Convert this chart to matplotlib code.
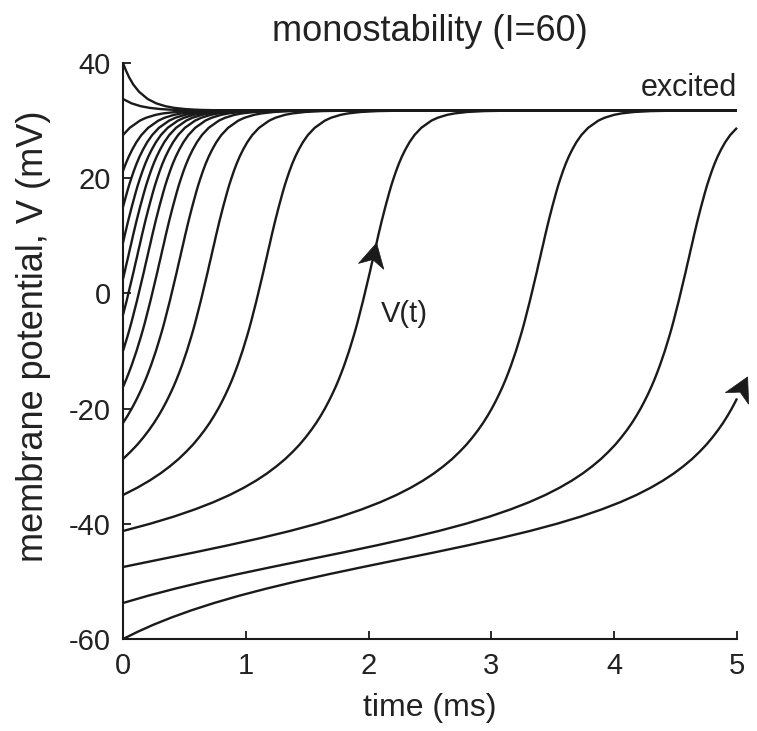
import numpy as np
import matplotlib
matplotlib.use("Agg")
import matplotlib.pyplot as plt
from matplotlib.patches import Polygon

plt.rcParams['font.family'] = ['Liberation Sans', 'DejaVu Sans']
plt.rcParams['axes.unicode_minus'] = False

# ---- data ----
# Master trajectory of the rising branch: time (ms) at which V reaches each level (mV)
V_UP = [-60.0, -58.75, -57.5, -56.25, -55.0, -53.75, -52.5, -51.25, -50.0, -48.75,
        -47.5, -46.25, -45.0, -43.75, -42.5, -41.25, -40.0, -38.75, -37.5, -36.25,
        -35.0, -33.75, -32.5, -31.25, -30.0, -28.75, -27.5, -26.25, -25.0, -23.75,
        -22.5, -21.25, -20.0, -18.75, -17.5, -16.25, -15.0, -13.75, -12.5, -11.25,
        -10.0, -8.75, -7.5, -6.25, -5.0, -3.75, -2.5, -1.25, 0.0, 1.25,
        2.5, 3.75, 5.0, 6.25, 7.5, 8.75, 10.0, 11.25, 12.5, 13.75,
        15.0, 16.25, 17.5, 18.75, 20.0, 21.25, 22.5, 23.75, 25.0, 26.25,
        27.5, 28.75, 30.0, 30.5, 31.0, 31.25, 31.5, 31.65, 31.72]
T_UP = [0.000, 0.119, 0.250, 0.397, 0.560, 0.742, 0.944, 1.168, 1.412, 1.676,
        1.954, 2.240, 2.528, 2.806, 3.070, 3.313, 3.532, 3.727, 3.898, 4.049,
        4.181, 4.296, 4.397, 4.486, 4.564, 4.634, 4.695, 4.751, 4.800, 4.845,
        4.886, 4.923, 4.957, 4.988, 5.017, 5.044, 5.069, 5.092, 5.114, 5.134,
        5.154, 5.172, 5.190, 5.207, 5.223, 5.238, 5.253, 5.268, 5.282, 5.296,
        5.310, 5.324, 5.337, 5.351, 5.364, 5.378, 5.391, 5.405, 5.419, 5.434,
        5.449, 5.465, 5.481, 5.498, 5.517, 5.537, 5.559, 5.584, 5.613, 5.646,
        5.687, 5.742, 5.825, 5.876, 5.953, 6.014, 6.118, 6.254, 6.432]
# Master trajectory of the decaying branch (starting above the excited state)
V_DOWN = [40.0, 38.75, 37.5, 36.25, 35.0, 33.75, 33.0, 32.5, 32.2, 32.0, 31.9, 31.85, 31.8]
T_DOWN = [0.000, 0.023, 0.050, 0.084, 0.131, 0.201, 0.270, 0.345, 0.421, 0.508, 0.584, 0.645, 0.749]
V_EXCITED = 31.75
# Initial membrane potentials of the 17 trajectories
V_START = [-60.0, -53.75, -47.5, -41.25, -35.0, -28.75, -22.5, -16.25, -10.0,
           -3.75, 2.5, 8.75, 15.0, 21.25, 27.5, 33.75, 40.0]
T_END = 5.0
# arrows: (start potential of curve, potential at arrow tip or None for curve end)
ARROWS = [(-41.25, 8.75), (-60.0, None)]

XTICKS = [0, 1, 2, 3, 4, 5]
YTICKS = [-60, -40, -20, 0, 20, 40]

col = '#1a1a1a'
tcol = '#222222'
fig = plt.figure(figsize=(7.57, 7.31), dpi=100)
ax = fig.add_axes([123/757, 1-639/731, (737-123)/757, (639-63)/731])
ax.set_xlim(0, 5)
ax.set_ylim(-60, 40)

vu, tu = np.array(V_UP), np.array(T_UP)
vd, td = np.array(V_DOWN), np.array(T_DOWN)
curves = {}
for V0 in V_START:
    if V0 < V_EXCITED:
        s = np.interp(V0, vu, tu)
        tt, vv = tu - s, vu
    else:
        s = np.interp(-V0, -vd, td)
        tt, vv = td - s, vd
    m = tt >= -1e-9
    x, y = list(tt[m]), list(vv[m])
    if x[-1] > T_END:
        ye = np.interp(T_END, x, y)
        keep = [i for i, xi in enumerate(x) if xi < T_END]
        x = [x[i] for i in keep] + [T_END]
        y = [y[i] for i in keep] + [ye]
    else:
        x.append(T_END)
        y.append(V_EXCITED)
    ax.plot(x, y, color=col, lw=1.7, clip_on=False, solid_capstyle='butt')
    curves[V0] = (np.array(x), np.array(y))

# arrow heads (drawn in pixel space along the curve)
fig.canvas.draw()
toD = ax.transData
fromD = ax.transData.inverted()
L, W, N = 24.0, 13.0, 7.0
for V0, vtip in ARROWS:
    x, y = curves[V0]
    if vtip is None:
        p1 = np.array(toD.transform((x[-2], y[-2])))
        p0 = np.array(toD.transform((x[-1], y[-1])))
        u = (p0 - p1) / np.hypot(*(p0 - p1))
        base = p0
        tip = base + L * u
    else:
        xt = np.interp(vtip, y, x)
        xb = np.interp(vtip - 3.0, y, x)
        tip = np.array(toD.transform((xt, vtip)))
        pb = np.array(toD.transform((xb, vtip - 3.0)))
        u = (tip - pb) / np.hypot(*(tip - pb))
        base = tip - L * u
    n = np.array([-u[1], u[0]])
    pts = [tip, base + W * n, tip - (L - N) * u, base - W * n]
    pts = fromD.transform(np.array(pts))
    ax.add_patch(Polygon(pts, closed=True, facecolor=col, edgecolor=col, lw=0.5, clip_on=False))

for s in ['top', 'right']:
    ax.spines[s].set_visible(False)
for s in ['left', 'bottom']:
    ax.spines[s].set_linewidth(1.5)
    ax.spines[s].set_color(col)
ax.tick_params(direction='in', length=6, width=1.3, labelsize=21, pad=9, colors=col, labelcolor=tcol)
ax.set_xticks(XTICKS)
ax.set_yticks(YTICKS)
ax.set_title('monostability (I=60)', fontsize=26, pad=16, color=tcol)
ax.set_xlabel('time (ms)', fontsize=23, labelpad=10, color=tcol)
ax.set_ylabel('membrane potential, V (mV)', fontsize=26, color=tcol)
ax.yaxis.set_label_coords(-0.117, 0.525)
ax.text(5, 34.2, 'excited', ha='right', va='baseline', fontsize=22, color=tcol)
ax.text(2.1, -5.0, 'V(t)', ha='left', va='baseline', fontsize=21, color=tcol)
fig.savefig("out.png", dpi=100)
